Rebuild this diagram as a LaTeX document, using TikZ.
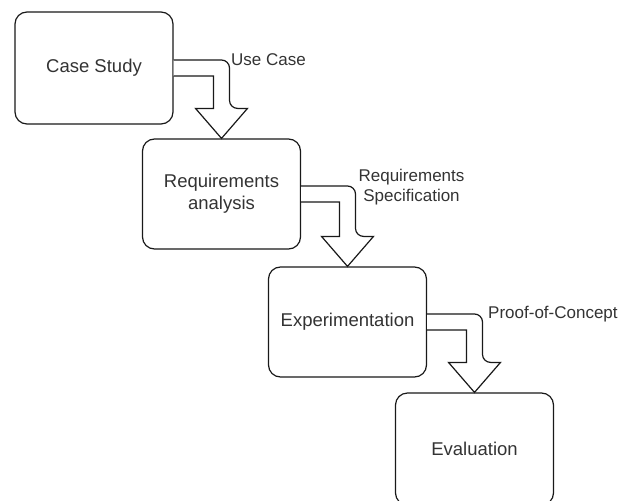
\documentclass[tikz,border=0pt]{standalone}
\usepackage{fontspec}
\setmainfont{Liberation Sans}
\usetikzlibrary{calc}

\tikzset{
  stage/.style={draw=black!90, line width=1.2pt, rounded corners=12pt, fill=white,
    minimum width=158pt, align=center, text=black!80,
    font=\fontsize{18.5}{22}\selectfont},
  flowlabel/.style={text=black!80, align=center, inner sep=0pt,
    font=\fontsize{17}{20}\selectfont},
  flexarrow/.style={draw=black!90, line width=1.2pt, fill=white, line join=miter}
}

% hollow bent arrow from the east side of #1 down onto the top of #2
\newcommand\bentarrow[2]{%
  \draw[flexarrow]
    ($(#1.east)+(0,-8)$)
    [rounded corners=8pt] -- ($(#2.north |- #1.east)+(8,-8)$)
    -- ($(#2.north)+(8,-30)$) [sharp corners]
    -- ($(#2.north)+(26,-30)$)
    -- (#2.north)
    -- ($(#2.north)+(-26,-30)$)
    -- ($(#2.north)+(-8,-30)$)
    -- ($(#2.north |- #1.east)+(-8,8)$)
    -- ($(#1.east)+(0,8)$);
}

\begin{document}
\begin{tikzpicture}[x=1pt,y=-1pt]
  \useasboundingbox (0,0) rectangle (620,500);

  \node[stage, minimum height=112pt] (cs)  at (94,68)    {Case Study};
  \node[stage, minimum height=110pt] (req) at (221.5,194) {Requirements\\analysis};
  \node[stage, minimum height=110pt] (exp) at (347.5,322) {Experimentation};
  \node[stage, minimum height=112pt] (ev)  at (474.5,449) {Evaluation};

  \bentarrow{cs}{req}
  \bentarrow{req}{exp}
  \bentarrow{exp}{ev}

  \node[flowlabel, anchor=west] (l1) at (231,60)   {Use Case};
  \node[flowlabel]              (l2) at (411.5,187) {Requirements\\Specification};
  \node[flowlabel, anchor=west] (l3) at (488,314)  {Proof-of-Concept};
\end{tikzpicture}
\end{document}
